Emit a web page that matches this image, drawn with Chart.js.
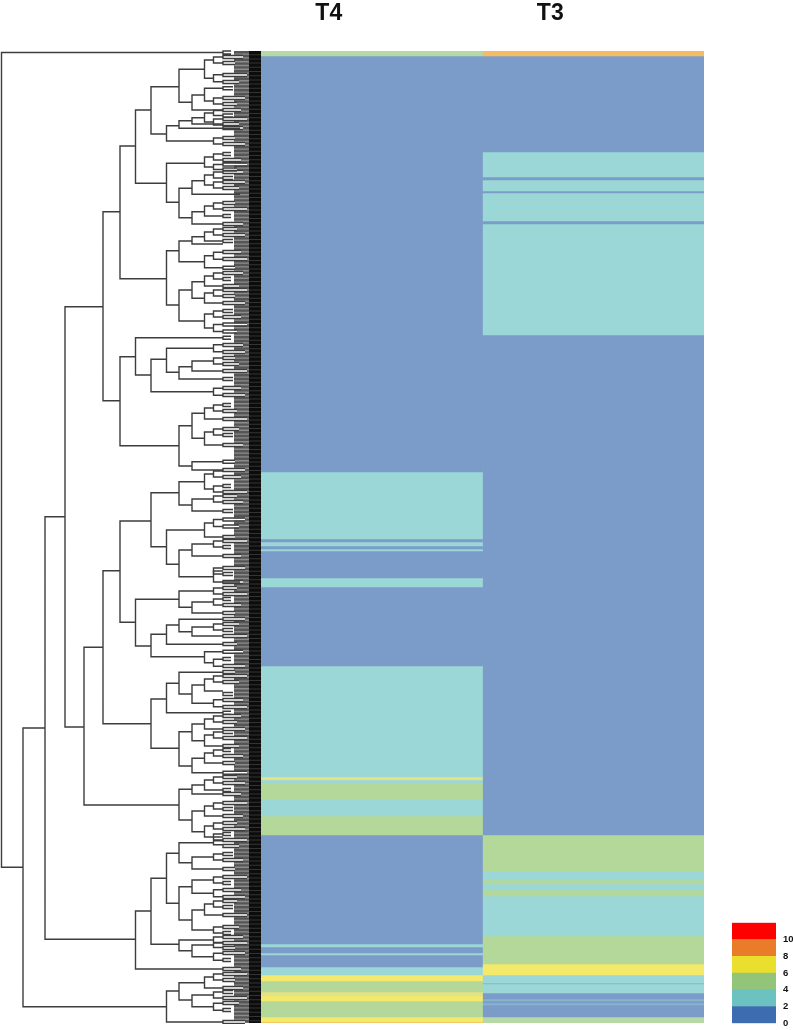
<!DOCTYPE html>
<html>
<head>
<meta charset="utf-8">
<title>T4 T3 heatmap</title>
<script src="https://cdn.jsdelivr.net/npm/chart.js@4"></script>
<style>
  html, body { margin: 0; padding: 0; background: #fff; overflow: hidden; }
  canvas { position: absolute; display: block; filter: blur(0.4px); }
  #dendro { left: 0; top: 50px; }
  #heat { left: 261px; top: 0; }
  #scale { left: 732px; top: 910px; }
</style>
</head>
<body>
<canvas id="dendro" width="261" height="974"></canvas>
<canvas id="heat" width="443" height="1023"></canvas>
<canvas id="scale" width="61" height="126"></canvas>
<script>
// heatmap columns, runs of rows from top to bottom
const columns = ['T4', 'T3'];
const t4Values = [4,1,3,1,3,1,3,1,3,1,3,6,3,5,3,5,1,3,1,3,1,3,7,5,6,7,5,7,9];
const t4Rows = [5,416,67,3,4,3,2,27,9,79,111,3,3,16,17,19,109,3,6,2,12,8,6,11,4,5,16,5,1];
const t3Values = [9,1,3,1,3,1,3,1,3,1,5,3,5,3,5,3,5,7,3,2,3,1,2,1,2,1,4];
const t3Rows = [5,96,25,3,11,2,28,3,111,500,36,9,4,6,6,40,28,11,8,1,9,6,2,2,2,12,6];

// colour scale
const scaleTicks = [0, 2, 4, 6, 8, 10];
const scaleSteps = [2, 2, 2, 2, 2, 2];

// dendrogram merges: [height, top row, bottom row, top child height, bottom child height]
const dendroRoot = [
  [259.5,1.5,816.3,38,238],[238,677,955.7,216,94.5],[216,465.7,888.3,196,125.5],[196,255.7,676,158,177],
  [158,160.7,349.7,141,141]
];
const dendroUpper = [
  [141,95,227.7,125.5,94.5],[125.5,59,132.3,110,94.5],[110,35.7,83,82,94.5],[82,18.3,51.3,56.5,69],
  [56.5,9,27.3,47.5,47.5],[69,44,59,56.5,38],[56.5,37.3,50,38,47.5],[94.5,74.7,90,82,47.5],
  [82,69.7,77.3,69,21],[69,66.7,73,56.5,38],[56.5,62,71,47.5,47.5],[94.5,112.3,151.3,56.5,82],
  [56.5,106,116,47.5,47.5],[82,137.3,166.7,69,69],[69,129.7,143.3,56.5,21],[56.5,124,134,47.5,47.5],
  [69,160.7,173,56.5,38],[56.5,155,165,47.5,38],[94.5,199.7,254,82,82],[82,190,210.7,69,56.5],
  [69,185.7,193,56.5,38],[56.5,181,190,47.5,38],[56.5,204.7,216.7,47.5,38],[82,239,270,69,56.5],
  [69,230.7,247.3,56.5,56.5],[56.5,225,235,47.5,38],[56.5,242,252,47.5,38],[56.5,263,277,47.5,47.5]
];
const dendroSecond = [
  [141,305.7,394.7,125.5,82],[125.5,286.7,324,38,110],[110,308.3,340.7,94.5,47.5],[94.5,297.3,321.3,47.5,82],
  [82,315.7,328,69,38],[69,310,320,47.5,38],[82,374.7,415,69,69],[69,362.3,387.3,56.5,56.5],
  [56.5,357,368,47.5,38],[56.5,381,394,47.5,38],[69,410.7,419,38,38]
];
const dendroMiddle = [
  [177,596.3,754,158,82],[158,519.7,672.7,141,110],[141,470,571.3,110,125.5],[110,441.7,495.7,82,94.5],
  [82,430.7,454,56.5,69],[56.5,423,438,47.5,47.5],[69,448,460,47.5,38],[94.5,479,513.3,56.5,82],
  [56.5,472,486,47.5,38],[82,499,525.7,69,47.5],[69,493,505,47.5,38],[47.5,520,531,38,21],
  [125.5,548.3,595,82,110],[82,540,556.3,47.5,69],[69,551,562,47.5,38],[110,583.3,605.7,94.5,56.5],
  [94.5,574,593.3,82,38],[82,568.3,580.7,38,69],[69,576,585,47.5,38],[56.5,600.7,611.7,38,47.5],
  [110,648,697.3,94.5,82],[94.5,632.3,661.7,82,38],[82,621.3,643,38,69],[69,634,652.3,56.5,47.5],
  [56.5,628,640,47.5,38],[82,680.7,715,69,69],[69,673,689.7,56.5,56.5],[56.5,668,678,47.5,38],
  [56.5,684,695,47.5,38],[69,707.3,721.7,56.5,38],[56.5,702,712,47.5,38],[82,738.3,769,69,69],
  [69,734,743,56.5,38],[56.5,729,739,47.5,38],[69,760,780.7,56.5,56.5],[56.5,755,765,47.5,38],
  [56.5,775,786,47.5,38]
];
const dendroLower = [
  [125.5,860,918,110,38],[110,827.3,893.3,94.5,82],[94.5,802.3,852.3,82,82],[82,791.7,811.7,47.5,69],
  [69,806,818,47.5,38],[82,835.7,869,69,69],[69,829,842.3,47.5,47.5],[69,859,879,56.5,47.5],
  [56.5,853,864,47.5,38],[82,889,899.7,47.5,69],[69,894,905.7,47.5,47.5],[94.5,940,971,82,38],
  [82,931.7,949,56.5,69],[56.5,926,937,47.5,38],[69,944,955.7,47.5,47.5]
];

// small clusters next to the leaves: [row, half spread] and [row, end height]
const tips47 = [
  [9,3],[27.3,3.5],[50,3],[62,2.5],[71,3],[90,3],[106,3],[116,2.5],[124,3],[134,3],[155,3],[181,3],[204.7,3.5],
  [225,3],[242,3],[263,3],[277,3.5],[297.3,3.5],[310,3],[340.7,3.5],[357,3],[381,3],[423,3],[438,3],[448,3],
  [472,3.5],[493,3],[520,3],[540,3],[551,3],[576,3],[611.7,3.5],[628,3],[652.3,3.5],[668,3],[684,3],[702,3],
  [729,3],[755,3],[775,3],[786,3],[791.7,2],[806,3],[829,3],[842.3,3.5],[853,3],[879,3],[889,3],[894,2.5],
  [905.7,3.5],[926,3],[944,3],[955.7,3.5]
];
const tips38 = [
  [1.5,30],[6,18],[12,26],[24,14],[31,22],[37.3,28],[47,16],[53,24],[59,20],[64.5,28],[68,14],[73,22],[77,18],
  [87,26],[93,16],[103,30],[109,20],[113.5,14],[118.5,24],[121,18],[127,28],[131,16],[137,22],[152,26],[158,14],
  [165,30],[173,18],[178,24],[184,16],[190,28],[201,20],[208,14],[216.7,26],[222,18],[228,30],[235,22],[239,14],
  [245,26],[252,16],[260,28],[266,20],[273.5,14],[280.5,24],[286.7,30],[294,18],[301,16],[307,26],[313,22],
  [320,14],[328,28],[337,20],[344,16],[354,30],[360,24],[368,14],[378,22],[384,28],[394,18],[410.7,26],[419,16],
  [426,20],[435,30],[441,14],[445,24],[451,18],[460,28],[468.5,16],[475.5,22],[486,26],[490,14],[496,30],[505,20],
  [517,16],[523,28],[531,18],[537,24],[543,14],[548,30],[554,20],[562,26],[568,16],[573,22],[579,28],[585,14],
  [593,24],[600.7,18],[608,30],[615,16],[621,26],[625,14],[631,22],[643,28],[649,18],[656,14],[661.7,30],[665,20],
  [671,24],[678,16],[681,28],[687,14],[695,22],[699,30],[705,18],[712,26],[721.7,14],[726,24],[732,16],[739,30],
  [743,20],[752,14],[758,28],[765,18],[772,24],[778,16],[783,30],[789,14],[795,22],[803,28],[809,18],[818,26],
  [826,14],[832,30],[839,20],[846,16],[850,24],[856,28],[864,14],[876,22],[882,30],[886,18],[892,14],[897,26],
  [902,16],[909,30],[918,20],[923,14],[929,26],[937,18],[941,28],[947,14],[952,22],[959,30],[971,16]
];

// leaf mass at the right of the dendrogram: [height, width in px, colour, dash]
const leafBands = [
  [19, 16, '#8c8c8c', []],
  [19, 16, '#555555', [2.4, 1.4]],
  [6, 12, '#333333', []],
  [6, 12, '#0c0c0c', [3.2, 1]]
];

const heatColors = { 1: '#7b9cc8', 2: '#86b3ce', 3: '#9ad7d6', 4: '#b5d8a5', 5: '#b3d89a', 6: '#e3e285', 7: '#f3e96a', 9: '#f5bc62' };
const scaleColors = ['#3e6cb0', '#6cc2c0', '#92c47a', '#ebdf2e', '#e87c28', '#ff0000'];

const rowCount = 972;

// heatmap, one stacked dataset per run
function runDatasets(values, rows, col) {
  return values.map((v, i) => ({
    data: col === 0 ? [rows[i], null] : [null, rows[i]],
    backgroundColor: heatColors[v],
    borderWidth: 0,
    barPercentage: 1,
    categoryPercentage: 1
  }));
}

new Chart(document.getElementById('heat'), {
  type: 'bar',
  data: {
    labels: columns,
    datasets: [...runDatasets(t4Values, t4Rows, 0), ...runDatasets(t3Values, t3Rows, 1)]
  },
  options: {
    responsive: false,
    animation: false,
    layout: { padding: 0 },
    plugins: { legend: { display: false }, tooltip: { enabled: false } },
    scales: {
      x: {
        position: 'top',
        stacked: true,
        grid: { display: false },
        border: { display: false },
        afterFit: s => { s.height = 51; },
        ticks: {
          maxRotation: 0,
          padding: 16,
          labelOffset: -43, // labels sit left of the column centres in the original
          color: '#111',
          font: { family: 'Liberation Sans', size: 23, weight: 'bold' }
        }
      },
      y: { display: false, stacked: true, reverse: true, min: 0, max: rowCount }
    }
  }
});

// dendrogram, U shapes with gaps between them
const gap = { x: null, y: null };
function mergePoints(list) {
  const pts = [];
  list.forEach(m => {
    pts.push({ x: m[3], y: m[1] }, { x: m[0], y: m[1] }, { x: m[0], y: m[2] }, { x: m[4], y: m[2] }, gap);
  });
  return pts;
}
function tip47Points() {
  const pts = [];
  tips47.forEach(t => {
    pts.push({ x: 38, y: t[0] - t[1] }, { x: 47.5, y: t[0] - t[1] }, { x: 47.5, y: t[0] + t[1] }, { x: 38, y: t[0] + t[1] }, gap);
  });
  return pts;
}
function tip38Points() {
  const pts = [];
  tips38.forEach(t => {
    pts.push({ x: t[1], y: t[0] - 1.5 }, { x: 38, y: t[0] - 1.5 }, { x: 38, y: t[0] + 1.5 }, { x: t[1], y: t[0] + 1.5 }, gap);
  });
  return pts;
}
// white inside of the small clusters, over the grey band
function tipHolePoints() {
  const pts = [];
  tips38.forEach(t => {
    pts.push({ x: 38, y: t[0] }, { x: t[1], y: t[0] }, gap);
  });
  return pts;
}
const treeStyle = { showLine: true, pointRadius: 0, borderColor: '#3d3d3d', borderWidth: 1.4, spanGaps: false, clip: false };

new Chart(document.getElementById('dendro'), {
  type: 'scatter',
  data: {
    datasets: [
      { ...treeStyle, data: mergePoints([...dendroRoot, ...dendroUpper, ...dendroSecond, ...dendroMiddle, ...dendroLower]), order: 0 },
      { ...treeStyle, data: tip47Points(), order: 1 },
      { ...treeStyle, data: tip38Points(), order: 2 },
      { ...treeStyle, data: tipHolePoints(), borderColor: '#ffffff', borderWidth: 2, order: 3 },
      ...leafBands.map((b, i) => ({
        data: [{ x: b[0], y: 0 }, { x: b[0], y: rowCount }],
        showLine: true, pointRadius: 0, borderColor: b[2], borderWidth: b[1], borderDash: b[3],
        order: 10 - i
      }))
    ]
  },
  options: {
    responsive: false,
    animation: false,
    layout: { padding: { top: 1, bottom: 1 } },
    plugins: { legend: { display: false }, tooltip: { enabled: false } },
    scales: {
      x: { display: false, reverse: true, min: 0, max: 261 },
      y: { display: false, reverse: true, min: 0, max: rowCount }
    }
  }
});

// colour scale at bottom right, the tick padding already leaves room above and below the bar
new Chart(document.getElementById('scale'), {
  type: 'bar',
  data: {
    labels: [''],
    datasets: scaleSteps.map((v, i) => ({
      data: [v],
      backgroundColor: scaleColors[i],
      borderWidth: 0,
      barPercentage: 1,
      categoryPercentage: 1
    }))
  },
  options: {
    responsive: false,
    animation: false,
    layout: { padding: 0 },
    plugins: { legend: { display: false }, tooltip: { enabled: false } },
    scales: {
      x: { display: false, stacked: true },
      y: {
        position: 'right',
        stacked: true,
        min: 0,
        max: 12,
        grid: { display: false, drawTicks: false },
        border: { display: false },
        afterFit: s => { s.width = 17; },
        ticks: {
          stepSize: 2,
          padding: 7,
          color: '#111',
          font: { family: 'Liberation Sans', size: 9.5, weight: 'bold' },
          callback: v => (scaleTicks.includes(v) ? v : '')
        }
      }
    }
  }
});
</script>
</body>
</html>
